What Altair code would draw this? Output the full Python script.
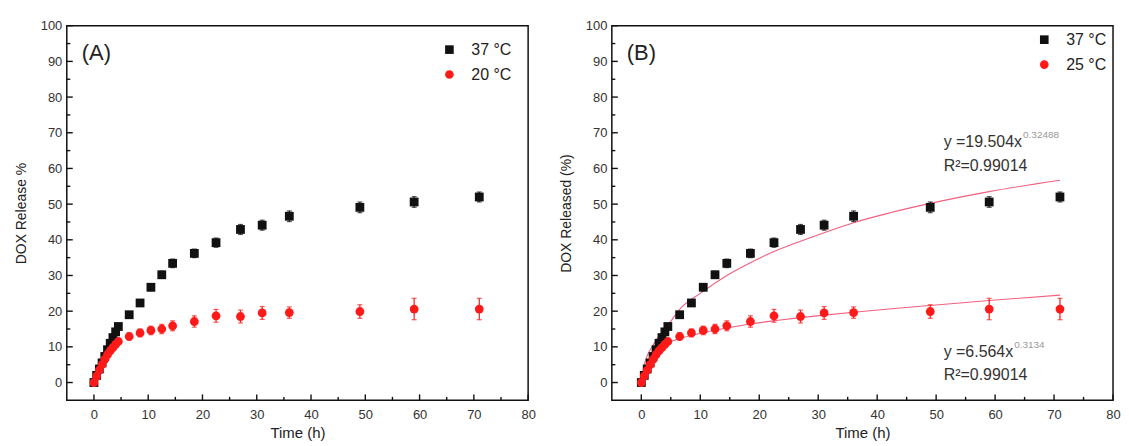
import altair as alt
import pandas as pd

# ---------------- data ----------------
times = [0, 0.5, 1, 1.5, 2, 2.5, 3, 3.5, 4, 4.5,
         6.5, 8.5, 10.5, 12.5, 14.5, 18.5, 22.5, 27, 31, 36, 49, 59, 71]

rel_37 = [0, 2.0, 3.8, 5.5, 7.3, 9.2, 11.0, 12.6, 14.2, 15.7,
          19.0, 22.3, 26.7, 30.2, 33.4, 36.2, 39.2, 42.9, 44.1, 46.6, 49.1, 50.6, 52.0]
err_37 = [0.4, 0.4, 0.4, 0.5, 0.5, 0.5, 0.6, 0.6, 0.7, 0.7,
          0.8, 0.9, 1.0, 1.0, 1.2, 1.2, 1.3, 1.4, 1.4, 1.5, 1.5, 1.5, 1.4]

rel_low = [0, 1.8, 3.5, 5.0, 6.5, 7.8, 8.9, 9.8, 10.7, 11.5,
           12.9, 13.9, 14.6, 15.0, 15.9, 17.1, 18.7, 18.5, 19.5, 19.6, 19.9, 20.6, 20.6]
err_low = [0.4, 0.4, 0.5, 0.5, 0.6, 0.6, 0.7, 0.7, 0.8, 0.8,
           1.0, 1.1, 1.2, 1.3, 1.4, 1.6, 1.8, 1.8, 1.8, 1.6, 1.9, 3.0, 3.0]

# fitted curves drawn in panel B
fit_t = [0, 0.5, 1, 2, 3, 4.5, 6.5, 10, 14.5, 18.5, 22.5, 27, 31, 36, 42, 49, 59, 71]
fit_37 = [0, 5.0, 7.5, 10.5, 13.0, 16.0, 20.5, 25.0, 30.0, 33.6, 36.7, 39.6, 42.0, 44.8, 47.5, 50.2, 53.5, 56.7]
fit_25 = [0, 3.5, 5.0, 7.0, 9.0, 11.0, 12.3, 13.8, 15.3, 16.4, 17.3, 18.2, 18.9, 19.7, 20.6, 21.6, 23.0, 24.5]

x_ticks_major = [0, 10, 20, 30, 40, 50, 60, 70, 80]
x_ticks_minor = [5, 15, 25, 35, 45, 55, 65, 75]
y_ticks_major = [0, 10, 20, 30, 40, 50, 60, 70, 80, 90, 100]
y_ticks_minor = [5, 15, 25, 35, 45, 55, 65, 75, 85, 95]

eq_37 = ["y =19.504x", "0.32488", "R\u00b2=0.99014"]
eq_25 = ["y =6.564x", "0.3134", "R\u00b2=0.99014"]

FONT = "Liberation Sans"
BLACK = "#111111"
RED = "#ff1a1a"
FITC = "#f2607e"
H = 376

# approximate advance widths (em) of Liberation Sans, for placing superscripts
CW = {"y": 0.5, " ": 0.278, "=": 0.584, ".": 0.278, "x": 0.5}


def text_width(s, size):
    return sum(CW.get(c, 0.556) for c in s) * size


def panel(letter, low_label, ytitle, width, with_fit, legend_offset):
    hi_label = "37 \u00b0C"
    rows = []
    for t, v, e in zip(times, rel_37, err_37):
        rows.append({"t": t, "y": v, "lo": v - e, "hi": v + e, "s": hi_label})
    for t, v, e in zip(times, rel_low, err_low):
        rows.append({"t": t, "y": v, "lo": v - e, "hi": v + e, "s": low_label})
    df = pd.DataFrame(rows)

    xs = alt.Scale(domain=[-5, 80], nice=False, zero=False)
    ys = alt.Scale(domain=[-5, 100], nice=False, zero=False)
    cs = alt.Scale(domain=[hi_label, low_label], range=[BLACK, RED])
    ss = alt.Scale(domain=[hi_label, low_label], range=["square", "circle"])

    xaxis = alt.Axis(values=x_ticks_major, ticks=False, domain=False, grid=False,
                     labelOverlap=False, labelFlush=False,
                     labelPadding=8, labelFontSize=13, labelColor="#333",
                     title="Time (h)", titleFontSize=15, titlePadding=4,
                     titleColor="#222", titleFontWeight="normal")
    yaxis = alt.Axis(values=y_ticks_major, ticks=False, domain=False, grid=False,
                     labelOverlap=False, labelFlush=False,
                     labelPadding=5, labelFontSize=13, labelColor="#333",
                     title=ytitle, titleFontSize=14, titlePadding=12,
                     titleColor="#222", titleFontWeight="normal")

    leg = alt.Legend(title=None, orient="top-right", offset=legend_offset,
                     labelFontSize=16, labelFont=FONT, labelColor="#222",
                     symbolSize=75, rowPadding=9, labelOffset=14, padding=4)

    errs = []
    for lab, col in [(hi_label, BLACK), (low_label, RED)]:
        errs.append(
            alt.Chart(df[df.s == lab]).mark_errorbar(ticks=True, thickness=1.2, color=col).encode(
                x=alt.X("t:Q", scale=xs, axis=xaxis),
                y=alt.Y("lo:Q", scale=ys, axis=yaxis),
                y2="hi:Q",
            )
        )
    pts = alt.Chart(df).mark_point(filled=True, size=78, opacity=1).encode(
        x=alt.X("t:Q", scale=xs, axis=xaxis),
        y=alt.Y("y:Q", scale=ys, axis=yaxis),
        color=alt.Color("s:N", scale=cs, legend=leg),
        shape=alt.Shape("s:N", scale=ss, legend=leg),
    )

    xt_maj = pd.DataFrame({"v": x_ticks_major})
    xt_min = pd.DataFrame({"v": x_ticks_minor})
    yt_maj = pd.DataFrame({"v": y_ticks_major})
    yt_min = pd.DataFrame({"v": y_ticks_minor})
    tk = dict(color="#111", strokeWidth=1.4)
    xtick_maj = alt.Chart(xt_maj).mark_rule(**tk).encode(
        x=alt.X("v:Q", scale=xs, axis=xaxis), y=alt.value(H - 6), y2=alt.value(H))
    xtick_min = alt.Chart(xt_min).mark_rule(**tk).encode(
        x=alt.X("v:Q", scale=xs, axis=xaxis), y=alt.value(H - 3.5), y2=alt.value(H))
    ytick_maj = alt.Chart(yt_maj).mark_rule(**tk).encode(
        y=alt.Y("v:Q", scale=ys, axis=yaxis), x=alt.value(0), x2=alt.value(6))
    ytick_min = alt.Chart(yt_min).mark_rule(**tk).encode(
        y=alt.Y("v:Q", scale=ys, axis=yaxis), x=alt.value(0), x2=alt.value(3.5))

    letter_txt = alt.Chart(pd.DataFrame({"txt": [letter]})).mark_text(
        font=FONT, fontSize=22, align="left", baseline="middle", color="#222").encode(
        text="txt:N", x=alt.value(15), y=alt.value(27))

    layers = []
    if with_fit:
        fdf = pd.DataFrame({"t": fit_t * 2, "f": fit_37 + fit_25,
                            "c": ["a"] * len(fit_t) + ["b"] * len(fit_t)})
        fit = alt.Chart(fdf).mark_line(color=FITC, strokeWidth=1.1, interpolate="monotone").encode(
            x=alt.X("t:Q", scale=xs, axis=xaxis), y=alt.Y("f:Q", scale=ys, axis=yaxis), detail="c:N")
        layers.append(fit)

    layers += errs + [pts, xtick_maj, xtick_min, ytick_maj, ytick_min, letter_txt]

    if with_fit:
        def eq(lines, top):
            x0 = 333
            main = alt.Chart(pd.DataFrame({"txt": [lines[0]]})).mark_text(
                font=FONT, fontSize=16, align="left", baseline="middle", color="#333").encode(
                text="txt:N", x=alt.value(x0), y=alt.value(top))
            w = text_width(lines[0], 16)
            sup = alt.Chart(pd.DataFrame({"txt": [lines[1]]})).mark_text(
                font=FONT, fontSize=10, align="left", baseline="middle", color="#999").encode(
                text="txt:N", x=alt.value(x0 + w + 1), y=alt.value(top - 7))
            r2 = alt.Chart(pd.DataFrame({"txt": [lines[2]]})).mark_text(
                font=FONT, fontSize=16, align="left", baseline="middle", color="#333").encode(
                text="txt:N", x=alt.value(x0), y=alt.value(top + 24))
            return [main, sup, r2]
        layers += eq(eq_37, 117)
        layers += eq(eq_25, 327)

    return alt.layer(*layers).properties(width=width, height=H)


left = panel("(A)", "20 \u00b0C", "DOX Release %", 463, False, 12)
right = panel("(B)", "25 \u00b0C", "DOX Released (%)", 503, True, 2)

chart = alt.hconcat(left, right, spacing=22).resolve_scale(
    color="independent", shape="independent"
).properties(
    padding={"left": 5, "top": 10, "right": 0, "bottom": 0},
    background="white",
).configure_view(
    stroke="#111", strokeWidth=1.5
).configure_axis(labelFont=FONT, titleFont=FONT).configure_legend(labelFont=FONT)

chart.save("out.html", embed_options={"renderer": "svg", "actions": False})
